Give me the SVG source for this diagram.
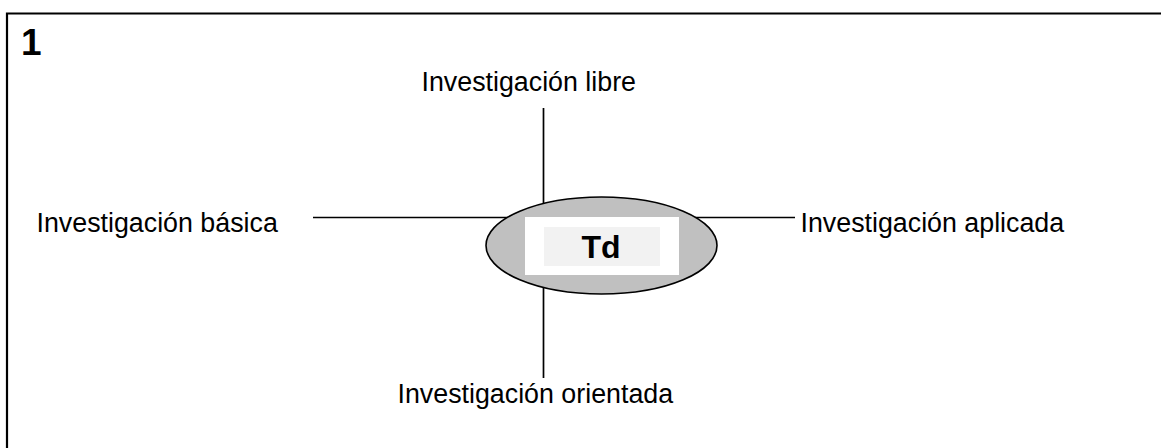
<svg xmlns="http://www.w3.org/2000/svg" width="1161" height="448" viewBox="0 0 1161 448">
<style>
.lbl{font-family:"Liberation Sans",Arial,sans-serif;font-size:26.8px;fill:#000}
.bold{font-family:"Liberation Sans",Arial,sans-serif;font-weight:bold;fill:#000}
.ln{stroke:#000;stroke-width:1.7;fill:none}
</style>
<rect width="1161" height="448" fill="#fff"/>
<path d="M7,450 V13.5 H1163" fill="none" stroke="#000" stroke-width="2.2"/>
<text class="bold" x="21" y="55" font-size="37">1</text>
<g id="connectors">
<line class="ln" x1="543.5" y1="108" x2="543.5" y2="378"/>
<line class="ln" x1="313" y1="217.5" x2="795" y2="217.5"/>
</g>
<g id="td">
<ellipse cx="601.5" cy="245.5" rx="115.5" ry="48.5" fill="#c0c0c0" stroke="#000" stroke-width="1.6"/>
<rect x="525" y="217" width="154" height="58" fill="#fff"/>
<rect x="544" y="227" width="116" height="39" fill="#f2f2f2"/>
<text class="bold" x="601" y="258" font-size="32" text-anchor="middle">Td</text>
</g>
<g id="libre"><text class="lbl" x="421.5" y="91">Investigación libre</text></g>
<g id="basica"><text class="lbl" x="36.5" y="232">Investigación básica</text></g>
<g id="aplicada"><text class="lbl" x="800.5" y="232">Investigación aplicada</text></g>
<g id="orientada"><text class="lbl" x="397.5" y="403">Investigación orientada</text></g>
</svg>
